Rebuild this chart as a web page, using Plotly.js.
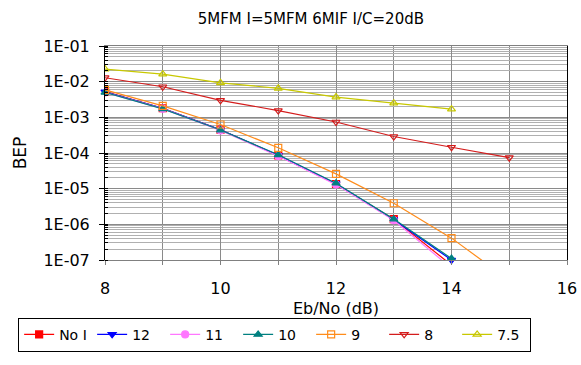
<!DOCTYPE html>
<html>
<head>
<meta charset="utf-8">
<script src="https://cdn.plot.ly/plotly-3.0.1.min.js"></script>
<style>html,body{margin:0;padding:0;background:#fff;}#chart{width:581px;height:365px;}</style>
</head>
<body>
<div id="chart"></div>
<script>
// Data
const ebno = [8, 9, 10, 11, 12, 13, 14, 15];
const seriesNames = ["No I", "12", "11", "10", "9", "8", "7.5"];
const bepNoI = [5.3e-3, 1.8e-3, 4.5e-4, 8.5e-5, 1.35e-5, 1.4e-6, 7.2e-8];
const bep12  = [5.2e-3, 1.78e-3, 4.5e-4, 8.6e-5, 1.38e-5, 1.35e-6, 1.0e-7];
const bep11  = [5.0e-3, 1.75e-3, 4.3e-4, 8.2e-5, 1.3e-5, 1.3e-6, 5.9e-8];
const bep10  = [5.0e-3, 1.72e-3, 4.4e-4, 8.9e-5, 1.42e-5, 1.4e-6, 1.1e-7];
const bep9   = [5.9e-3, 2.1e-3, 6.3e-4, 1.4e-4, 2.6e-5, 3.9e-6, 4.1e-7, 2.7e-8];
const bep8   = [1.29e-2, 7.2e-3, 3.0e-3, 1.55e-3, 7.4e-4, 2.9e-4, 1.45e-4, 7.4e-5];
const bep75  = [2.26e-2, 1.62e-2, 9.3e-3, 6.5e-3, 3.7e-3, 2.5e-3, 1.7e-3];
const yTickVals = [1e-1, 1e-2, 1e-3, 1e-4, 1e-5, 1e-6, 1e-7];
const yTickText = ["1E-01", "1E-02", "1E-03", "1E-04", "1E-05", "1E-06", "1E-07"];

const allY = [bepNoI, bep12, bep11, bep10, bep9, bep8, bep75];
const colors = ["#FF0000", "#0000FF", "#FF77FF", "#008080", "#FF8C1A", "#D41C1C", "#C8C800"];
const symbols = ["square", "triangle-down", "circle", "triangle-up", "square-open", "triangle-down-open", "triangle-up-open"];
const clip = [true, false, true, false, true, true, true];

const FONT = "DejaVu Sans, Liberation Sans, Arial, sans-serif";

const traces = allY.map((ys, i) => ({
  x: ebno.slice(0, ys.length),
  y: ys,
  name: seriesNames[i],
  type: "scatter",
  mode: "lines+markers",
  line: {color: colors[i], width: 1.2},
  marker: {color: colors[i], symbol: symbols[i], size: 7, line: {color: colors[i], width: 1.2}},
  cliponaxis: clip[i]
}));

const layout = {
  width: 581, height: 365,
  margin: {l: 105, r: 14, t: 46, b: 105},
  paper_bgcolor: "#ffffff",
  plot_bgcolor: "#ffffff",
  font: {family: FONT, color: "#000", size: 15},
  title: {text: "5MFM I=5MFM 6MIF I/C=20dB", font: {family: FONT, size: 15, color: "#000"},
          x: 0.535, xref: "container", xanchor: "center", y: 0.95, yref: "container", yanchor: "middle"},
  showlegend: true,
  legend: {
    orientation: "h", x: -0.188, xanchor: "left", y: -0.27, yanchor: "top",
    bordercolor: "#000", borderwidth: 1, bgcolor: "#fff",
    font: {family: FONT, size: 14, color: "#000"},
    entrywidth: 28, entrywidthmode: "pixels", tracegroupgap: 0, itemwidth: 30
  },
  xaxis: {
    range: [8, 16], dtick: 2, tick0: 8,
    showgrid: true, gridcolor: "#8a8a8a", gridwidth: 1,
    minor: {dtick: 1, showgrid: true, gridcolor: "#8a8a8a", ticks: "outside", ticklen: 4, tickcolor: "#808080"},
    ticks: "outside", ticklen: 4, tickcolor: "#808080",
    showline: true, linecolor: "#808080", linewidth: 1, mirror: true,
    zeroline: false,
    ticklabelstandoff: 10,
    tickfont: {family: FONT, size: 16, color: "#000"},
    title: {text: "Eb/No (dB)", font: {family: FONT, size: 16, color: "#000"}, standoff: 5}
  },
  yaxis: {
    type: "log", range: [-7, -1],
    tickvals: yTickVals, ticktext: yTickText,
    showgrid: true, gridcolor: "#8a8a8a", gridwidth: 1,
    minor: {dtick: "D1", showgrid: true, gridcolor: "#b0b0b0", ticks: "inside", ticklen: 3, tickcolor: "#000"},
    ticks: "outside", ticklen: 5, tickcolor: "#000",
    showline: true, linecolor: "#000", linewidth: 1, mirror: true,
    zeroline: false,
    ticklabelstandoff: 6,
    tickfont: {family: FONT, size: 16, color: "#000"},
    title: {text: "BEP", font: {family: FONT, size: 17, color: "#000"}, standoff: 12}
  }
};

Plotly.newPlot("chart", traces, layout, {displayModeBar: false, staticPlot: true});
</script>
</body>
</html>
